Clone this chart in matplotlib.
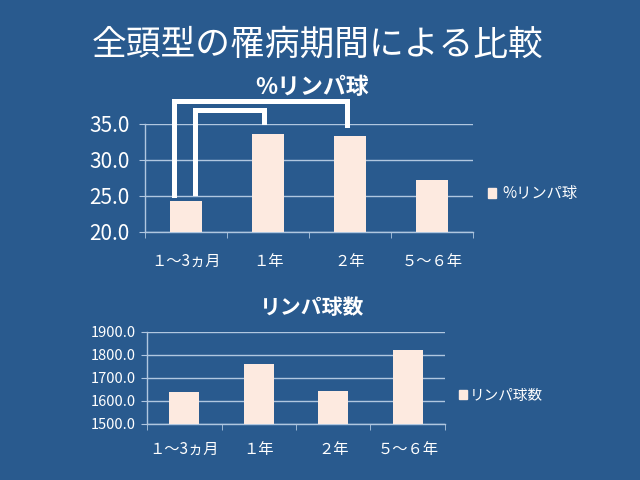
import matplotlib
matplotlib.use("Agg")
import matplotlib.pyplot as plt
from matplotlib.patches import Patch

plt.rcParams['font.family'] = ['Noto Sans CJK JP', 'DejaVu Sans']

categories = ["１～3ヵ月", "１年", "２年", "５～６年"]
pct_lymph = [24.3, 33.6, 33.3, 27.2]
lymph_count = [1640.0, 1760.0, 1645.0, 1820.0]
pct_ticks = [20.0, 25.0, 30.0, 35.0]
count_ticks = [1500.0, 1600.0, 1700.0, 1800.0, 1900.0]

BG = "#295A8E"
BAR = "#FDEAE0"
GRID = "#B0C7E0"
W = "white"

fig = plt.figure(figsize=(6.4, 4.8), dpi=100)
fig.patch.set_facecolor(BG)

fig.text(0.497, 0.905, "全頭型の罹病期間による比較", color=W, fontsize=25,
         ha="center", va="center")


def style(ax, yticks, ytick_fs, xtick_fs, xpad, ypad):
    ax.set_facecolor(BG)
    n = len(categories)
    ax.set_xlim(-0.5, n - 0.5)
    ax.set_ylim(yticks[0], yticks[-1])
    ax.set_yticks(yticks)
    ax.set_yticklabels([f"{v:.1f}" for v in yticks], color=W, fontsize=ytick_fs)
    ax.set_xticks(range(n))
    ax.set_xticklabels(categories, color=W, fontsize=xtick_fs)
    ax.set_xticks([i - 0.5 for i in range(n + 1)], minor=True)
    ax.tick_params(axis="x", which="major", length=0, pad=xpad)
    ax.tick_params(axis="x", which="minor", length=4, color=GRID, direction="out")
    ax.tick_params(axis="y", length=4, color=GRID, direction="out", pad=ypad)
    ax.grid(axis="y", color=GRID, linewidth=1)
    ax.set_axisbelow(True)
    for s in ["top", "right"]:
        ax.spines[s].set_visible(False)
    for s in ["left", "bottom"]:
        ax.spines[s].set_color(GRID)
        ax.spines[s].set_linewidth(1)


# Top chart
ax1 = fig.add_axes([0.2266, 0.5167, 0.5125, 0.225])
style(ax1, pct_ticks, 15, 11, 15, 7)
ax1.bar(range(len(categories)), pct_lymph, width=0.4, color=BAR, zorder=3,
        label="%リンパ球")
fig.text(0.488, 0.818, "%リンパ球", color=W, fontsize=16.5, fontweight="bold",
         ha="center", va="center")
# significance brackets
ax1.plot([-0.15, -0.15, 1.96, 1.96], [25.1, 38.2, 38.2, 34.9], color=W, lw=3.6,
         clip_on=False, solid_joinstyle="miter", zorder=4)
ax1.plot([0.11, 0.11, 0.95, 0.95], [25.4, 36.9, 36.9, 35.3], color=W, lw=3.6,
         clip_on=False, solid_joinstyle="miter", zorder=4)
fig.legend(handles=[Patch(color=BAR, label="%リンパ球")], loc="center left",
           bbox_to_anchor=(0.741, 0.596), frameon=False, fontsize=11,
           labelcolor=W, handlelength=0.55, handleheight=0.55, handletextpad=0.4)

# Bottom chart
ax2 = fig.add_axes([0.2297, 0.1167, 0.4656, 0.1917])
style(ax2, count_ticks, 10.5, 11, 12, 4)
ax2.bar(range(len(categories)), lymph_count, width=0.4, color=BAR, zorder=3,
        label="リンパ球数")
fig.text(0.488, 0.36, "リンパ球数", color=W, fontsize=15, fontweight="bold",
         ha="center", va="center")
fig.legend(handles=[Patch(color=BAR, label="リンパ球数")], loc="center left",
           bbox_to_anchor=(0.697, 0.175), frameon=False, fontsize=10.5,
           labelcolor=W, handlelength=0.55, handleheight=0.55, handletextpad=0.2)

fig.savefig("out.png", dpi=100, facecolor=BG)
